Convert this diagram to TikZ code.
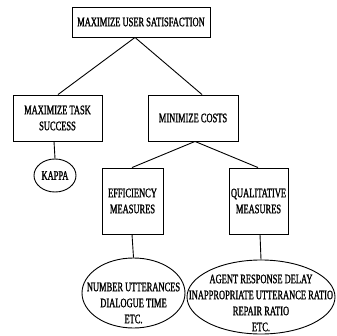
\documentclass[tikz,border=0pt]{standalone}
\usepackage{fontspec}
\setmainfont{Liberation Serif}[FakeStretch=0.65, FakeBold=1.2]
\usetikzlibrary{shapes.geometric}
\begin{document}
\begin{tikzpicture}[x=1pt,y=-1pt,
  every node/.style={font=\fontsize{13}{16}\selectfont, inner sep=0pt, align=center},
  goal/.style={draw, line width=0.9pt, rectangle},
  leaf/.style={draw, line width=0.9pt, ellipse},
  txt/.style={},
  link/.style={line width=0.9pt}]
\useasboundingbox (0,0) rectangle (336,336);

% goal hierarchy
\node[goal, minimum width=138pt, minimum height=30pt] (top) at (141,22) {MAXIMIZE USER SATISFACTION};
\node[goal, minimum width=89pt, minimum height=46pt] (task) at (57.5,118) {MAXIMIZE TASK\\SUCCESS};
\node[goal, minimum width=90pt, minimum height=46pt] (costs) at (193,118) {MINIMIZE COSTS};
\node[leaf, minimum width=42pt, minimum height=33pt] (kappa) at (55,175.5) {KAPPA};
\node[goal, minimum width=61pt, minimum height=66pt] (eff) at (132.5,201) {EFFICIENCY\\MEASURES};
\node[goal, minimum width=59pt, minimum height=66pt] (qual) at (258.5,201) {QUALITATIVE\\MEASURES};

% measure ellipses and their lists
\node[leaf, minimum width=103pt, minimum height=70pt] (effm) at (133.5,293) {};
\node[txt] (effmtxt) at (133.5,303) {NUMBER UTTERANCES\\DIALOGUE TIME\\ETC.};
\node[leaf, minimum width=148pt, minimum height=74pt] (qualm) at (261,297) {};
\node[txt] (qualmtxt) at (261,303) {AGENT RESPONSE DELAY\\INAPPROPRIATE UTTERANCE RATIO\\REPAIR RATIO\\ETC.};

% connectors
\draw[link] ([xshift=-6pt]top.south) -- ([xshift=0.5pt]task.north);
\draw[link] ([xshift=-6pt]top.south) -- ([xshift=9pt]costs.north);
\draw[link] ([xshift=-3.5pt]task.south) -- (kappa.north);
\draw[link] ([xshift=2pt]costs.south) -- ([xshift=-0.5pt]eff.north);
\draw[link] ([xshift=2pt]costs.south) -- ([xshift=-0.5pt]qual.north);
\draw[link] ([xshift=-0.5pt]eff.south) -- (effm.north);
\draw[link] ([xshift=1.5pt]qual.south) -- (qualm.north);
\end{tikzpicture}
\end{document}
